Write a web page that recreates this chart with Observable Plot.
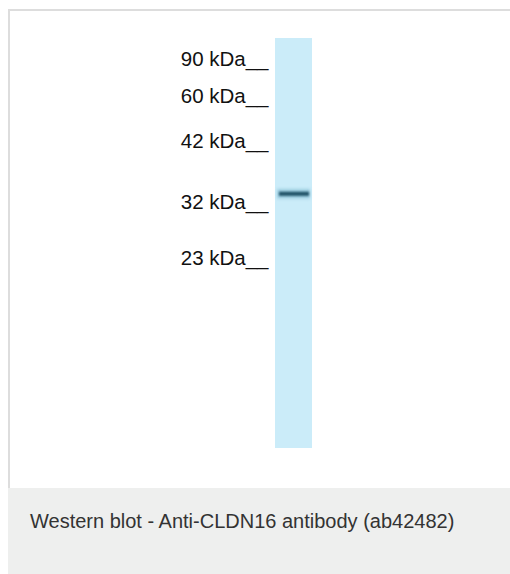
<!DOCTYPE html>
<html><head><meta charset="utf-8">
<script src="https://cdn.jsdelivr.net/npm/d3@7"></script>
<script src="https://cdn.jsdelivr.net/npm/@observablehq/plot@0.6"></script>
<style>
html,body{margin:0;padding:0;background:#fff;width:510px;height:574px;overflow:hidden;font-family:"Liberation Sans",Arial,sans-serif;}
#panel{position:absolute;left:8px;top:9px;width:600px;height:479px;border-left:2px solid #dddddd;border-top:2px solid #dddddd;background:#fff;box-sizing:border-box;}
#chart{position:absolute;left:0;top:0;}
#caption{position:absolute;left:8px;top:488px;width:600px;height:86px;background:#eeefee;box-sizing:border-box;padding-left:22px;padding-top:23px;font-size:20px;line-height:20px;color:#333;}
</style>
</head><body>
<div id="panel"></div>
<div id="chart"></div>
<div id="caption">Western blot - Anti-CLDN16 antibody (ab42482)</div>
<script>
// Ladder markers (label, relative migration along lane, 0 = lane top, 1 = lane bottom)
const markerLabels = ["90 kDa", "60 kDa", "42 kDa", "32 kDa", "23 kDa"];
const markerRf = [0.066, 0.158, 0.268, 0.417, 0.553];
// Sample lane and detected band
const laneNames = ["CLDN16"];
const bandLane = ["CLDN16"];
const bandRf = [0.380];

const markers = markerLabels.map((label, i) => ({label, rf: markerRf[i]}));
const lanes = laneNames.map(name => ({name, top: 0, bottom: 1}));
const bands = bandLane.map((lane, i) => ({lane, rf: bandRf[i]}));

const plot = Plot.plot({
  width: 510,
  height: 488,
  marginLeft: 238,
  marginRight: 198,
  marginTop: 38,
  marginBottom: 40,
  style: {background: "transparent", fontFamily: "Liberation Sans, Arial, sans-serif"},
  x: {type: "band", domain: ["ladder", ...laneNames], paddingInner: 0, paddingOuter: 0, axis: null},
  y: {domain: [0, 1], reverse: true, axis: null},
  marks: [
    Plot.barY(lanes, {x: "name", y1: "top", y2: "bottom", fill: "#cbecf9"}),
    Plot.barY(bands, {x: "lane", y1: d => d.rf - 0.012, y2: d => d.rf + 0.012, fill: "#a0d0e2", insetLeft: 2, insetRight: 2, className: "halo"}),
    Plot.barY(bands, {x: "lane", y1: d => d.rf - 0.005, y2: d => d.rf + 0.005, fill: "#1f5166", insetLeft: 4, insetRight: 3, className: "core"}),
    Plot.text(markers, {x: () => "ladder", y: "rf", text: d => d.label + "__", textAnchor: "end", lineAnchor: "bottom", dx: 11.5, fontSize: 20.5, fill: "#111"})
  ]
});
d3.select(plot).selectAll(".halo rect").style("filter", "blur(1.5px)");
d3.select(plot).selectAll(".core rect").style("filter", "blur(0.8px)");
document.getElementById("chart").appendChild(plot);
</script>
</body></html>
